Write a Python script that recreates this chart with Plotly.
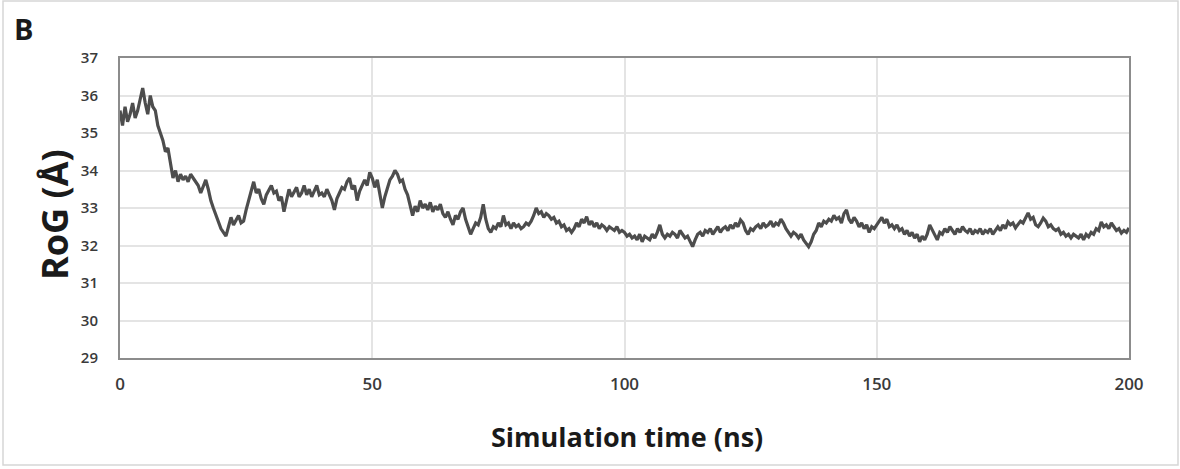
import plotly.graph_objects as go

# ---- data ----
TIME_STEP_NS = 0.5
rog_angstrom = [
    35.6, 35.2, 35.7, 35.3, 35.5, 35.8, 35.4, 35.6, 35.9, 36.2, 35.8, 35.5, 36.0, 35.7, 35.6, 35.2, 35.0, 34.8, 34.5, 34.6,
    34.2, 33.8, 34.0, 33.7, 33.9, 33.75, 33.85, 33.7, 33.9, 33.8, 33.7, 33.6, 33.4, 33.55, 33.75, 33.5, 33.2, 33.0, 32.8, 32.6,
    32.45, 32.35, 32.25, 32.5, 32.75, 32.55, 32.7, 32.8, 32.6, 32.65, 32.95, 33.2, 33.4, 33.7, 33.4, 33.5, 33.25, 33.1, 33.35, 33.5,
    33.6, 33.4, 33.45, 33.2, 33.3, 32.9, 33.25, 33.5, 33.3, 33.45, 33.55, 33.3, 33.4, 33.6, 33.35, 33.5, 33.3, 33.45, 33.6, 33.35,
    33.4, 33.3, 33.5, 33.35, 33.2, 32.95, 33.25, 33.4, 33.55, 33.5, 33.7, 33.8, 33.5, 33.6, 33.2, 33.45, 33.6, 33.75, 33.6, 33.95,
    33.8, 33.55, 33.75, 33.4, 33.0, 33.3, 33.5, 33.75, 33.85, 34.0, 33.9, 33.7, 33.75, 33.5, 33.35, 33.1, 32.8, 33.05, 32.9, 33.2,
    33.0, 33.1, 32.95, 33.15, 32.9, 33.05, 32.95, 33.1, 32.85, 32.75, 32.9, 32.7, 32.55, 32.8, 32.7, 32.9, 33.0, 32.7, 32.5, 32.3,
    32.45, 32.6, 32.55, 32.75, 33.1, 32.7, 32.45, 32.35, 32.5, 32.45, 32.6, 32.5, 32.8, 32.55, 32.6, 32.45, 32.6, 32.5, 32.55, 32.45,
    32.5, 32.6, 32.55, 32.65, 32.8, 33.0, 32.85, 32.9, 32.75, 32.85, 32.8, 32.7, 32.75, 32.6, 32.65, 32.5, 32.55, 32.4, 32.45, 32.35,
    32.45, 32.6, 32.5, 32.7, 32.6, 32.77, 32.55, 32.65, 32.5, 32.6, 32.45, 32.55, 32.5, 32.4, 32.5, 32.45, 32.4, 32.5, 32.35, 32.4,
    32.35, 32.25, 32.3, 32.2, 32.25, 32.15, 32.3, 32.1, 32.25, 32.2, 32.15, 32.3, 32.2, 32.35, 32.55, 32.3, 32.2, 32.3, 32.25, 32.35,
    32.3, 32.2, 32.4, 32.3, 32.2, 32.25, 32.1, 31.97, 32.15, 32.3, 32.35, 32.25, 32.4, 32.35, 32.45, 32.3, 32.4, 32.5, 32.35, 32.45,
    32.5, 32.4, 32.55, 32.45, 32.6, 32.5, 32.68, 32.6, 32.4, 32.3, 32.45, 32.4, 32.5, 32.55, 32.45, 32.6, 32.5, 32.55, 32.65, 32.5,
    32.6, 32.55, 32.7, 32.6, 32.45, 32.35, 32.25, 32.35, 32.3, 32.2, 32.3, 32.15, 32.05, 31.97, 32.1, 32.3, 32.4, 32.6, 32.5, 32.65,
    32.6, 32.7, 32.65, 32.8, 32.7, 32.75, 32.6, 32.85, 32.95, 32.7, 32.6, 32.75, 32.65, 32.5, 32.6, 32.45, 32.55, 32.35, 32.5, 32.45,
    32.55, 32.65, 32.75, 32.6, 32.7, 32.5, 32.55, 32.45, 32.55, 32.4, 32.45, 32.3, 32.4, 32.25, 32.35, 32.2, 32.3, 32.1, 32.25, 32.15,
    32.3, 32.55, 32.4, 32.3, 32.15, 32.35, 32.3, 32.45, 32.35, 32.5, 32.4, 32.3, 32.45, 32.35, 32.5, 32.4, 32.35, 32.45, 32.3, 32.4,
    32.35, 32.45, 32.3, 32.4, 32.35, 32.45, 32.3, 32.4, 32.5, 32.4, 32.55, 32.45, 32.63, 32.55, 32.6, 32.47, 32.55, 32.65, 32.6, 32.75,
    32.87, 32.7, 32.75, 32.55, 32.5, 32.6, 32.73, 32.65, 32.5, 32.55, 32.45, 32.4, 32.45, 32.3, 32.35, 32.25, 32.3, 32.2, 32.3, 32.25,
    32.2, 32.3, 32.15, 32.3, 32.23, 32.35, 32.3, 32.45, 32.4, 32.63, 32.5, 32.55, 32.45, 32.6, 32.5, 32.4, 32.45, 32.33, 32.4, 32.35,
    32.47,
]
time_ns = [i * TIME_STEP_NS for i in range(len(rog_angstrom))]

x_ticks = [0, 50, 100, 150, 200]
y_ticks = [29, 30, 31, 32, 33, 34, 35, 36, 37]
panel_label = "B"
x_title = "Simulation time (ns)"
y_title = "RoG (Å)"

# ---- figure ----
W, H = 1180, 469
L, R, T, B = 120, 51, 58, 111
pw, ph = W - L - R, H - T - B


def px(xp):
    return (xp - L) / pw


def py(yp):
    return (H - B - yp) / ph


fig = go.Figure()
fig.add_trace(go.Scatter(
    x=time_ns, y=rog_angstrom, mode="lines",
    line=dict(color="#4d4d4d", width=3.2),
    hoverinfo="x+y", showlegend=False,
))

tick_font = dict(family="Open Sans", color="#3a3a3a", weight=600)
fig.update_layout(
    width=W, height=H,
    margin=dict(l=L, r=R, t=T, b=B, pad=0),
    paper_bgcolor="white", plot_bgcolor="white",
    xaxis=dict(
        range=[0, 200], tickvals=x_ticks, ticktext=[str(v) for v in x_ticks],
        showgrid=True, gridcolor="#e4e4e4", gridwidth=1.5,
        showline=True, linecolor="#8c8c8c", linewidth=2, mirror=True,
        ticks="", zeroline=False, ticklabelstandoff=10,
        tickfont=dict(size=17, **tick_font),
    ),
    yaxis=dict(
        range=[29, 37], tickvals=y_ticks, ticktext=[str(v) for v in y_ticks],
        showgrid=True, gridcolor="#e4e4e4", gridwidth=1.5,
        showline=True, linecolor="#8c8c8c", linewidth=2, mirror=True,
        ticks="", zeroline=False, ticklabelstandoff=17,
        tickfont=dict(size=15, **tick_font),
    ),
    shapes=[dict(
        type="rect", xref="paper", yref="paper", layer="below",
        x0=px(3), x1=px(1178), y0=py(465), y1=py(1),
        line=dict(color="#d6d6d6", width=1.5), fillcolor="rgba(0,0,0,0)",
    )],
    annotations=[
        dict(text=panel_label, xref="paper", yref="paper", x=px(12), y=py(29),
             xanchor="left", yanchor="middle", showarrow=False,
             font=dict(family="Open Sans", size=29, color="#1a1a1a", weight="bold")),
        dict(text=y_title, xref="paper", yref="paper", x=px(54), y=py(215),
             xanchor="center", yanchor="middle", textangle=-90, showarrow=False,
             font=dict(family="Open Sans", size=36, color="#1a1a1a", weight="bold")),
        dict(text=x_title, xref="paper", yref="paper", x=px(627), y=py(437),
             xanchor="center", yanchor="middle", showarrow=False,
             font=dict(family="Open Sans", size=27, color="#1a1a1a", weight="bold")),
    ],
)

fig.write_html("out.html")
